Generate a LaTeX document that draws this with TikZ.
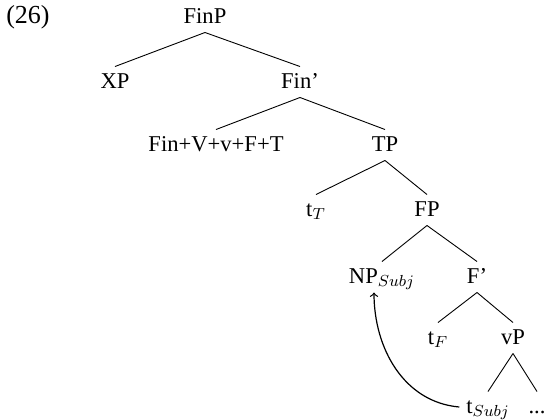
\documentclass[tikz,border=0pt]{standalone}
\usepackage{fontspec}
\setmainfont{Liberation Serif}
\begin{document}
\begin{tikzpicture}[x=0.5pt, y=-0.5pt,
    lbl/.style={font=\fontsize{11.3}{13}\selectfont, inner sep=3.3pt,
      text height=1.6ex, text depth=0.25ex},
    branch/.style={line width=0.45pt},
    move/.style={->, line width=0.6pt}]
  \useasboundingbox (0,0) rectangle (545,419);

  % Example number
  \node[lbl, font=\fontsize{13}{15}\selectfont] (num) at (28,17) {(26)};

  % Tree nodes, level by level
  \node[lbl] (finp)  at (205,17)  {FinP};
  \node[lbl] (xp)    at (115,82)  {XP};
  \node[lbl] (finb)  at (300,82)  {Fin'};
  \node[lbl] (fin)   at (216,145) {Fin+V+v+F+T};
  \node[lbl] (tp)    at (385,145) {TP};
  \node[lbl] (tt)    at (316,210) {t$_{T}$};
  \node[lbl] (fp)    at (427,210) {FP};
  \node[lbl] (np)    at (382,277) {NP$_{Subj}$};
  \node[lbl] (fb)    at (477,277) {F'};
  \node[lbl] (tf)    at (438,338) {t$_{F}$};
  \node[lbl] (vp)    at (513,338) {vP};
  \node[lbl] (tsubj) at (488,407) {t$_{Subj}$};
  \node[lbl] (dots)  at (537,407) {...};

  % Branches
  \draw[branch] (finp.south) -- (xp.north);
  \draw[branch] (finp.south) -- (finb.north);
  \draw[branch] (finb.south) -- (fin.north);
  \draw[branch] (finb.south) -- (tp.north);
  \draw[branch] (tp.south) -- (tt.north);
  \draw[branch] (tp.south) -- (fp.north);
  \draw[branch] (fp.south) -- (np.north);
  \draw[branch] (fp.south) -- (fb.north);
  \draw[branch] (fb.south) -- (tf.north);
  \draw[branch] (fb.south) -- (vp.north);
  \draw[branch] (vp.south) -- (tsubj.north);
  \draw[branch] (vp.south) -- (dots.north);

  % Subject movement
  \draw[move] (tsubj.west) to[out=175, in=-90] ([xshift=-4]np.south);
\end{tikzpicture}
\end{document}
